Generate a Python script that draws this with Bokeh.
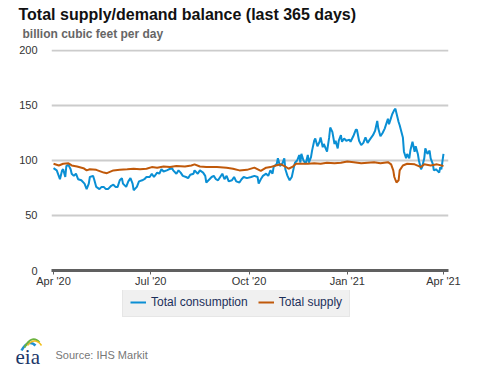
import pandas as pd
from bokeh.plotting import figure
from bokeh.layouts import column
from bokeh.models import (Range1d, FixedTicker, DatetimeTickFormatter, Label, Legend, LegendItem)
from bokeh.embed import file_html
from bokeh.resources import INLINE

# ---- data (days since 2020-04-01, bcf/d) ----
start_date = "2020-04-01"
cons_day = [0, 3, 6, 8, 9, 11, 12, 14, 16, 17, 19, 21, 23, 26, 29, 31, 33, 34, 37, 38,
            40, 43, 45, 47, 49, 51, 54, 56, 58, 60, 62, 64, 65, 68, 70, 72, 74, 75, 78, 80,
            83, 85, 87, 90, 92, 94, 97, 99, 101, 103, 106, 108, 111, 112, 115, 117, 119, 121, 124, 126,
            128, 131, 132, 135, 137, 140, 142, 143, 146, 148, 150, 152, 154, 156, 158, 160, 162, 164, 167, 169,
            171, 174,
            176, 178, 181, 185, 188, 191, 192, 194, 196, 199, 201, 203, 205, 206, 209, 210, 212, 214, 216, 217,
            219, 221, 223, 225, 226, 228, 230, 231, 232, 234, 236, 238, 239, 241, 242, 244, 245, 247, 249, 250,
            252, 253, 256, 258, 259, 261, 263, 264, 266, 267, 269, 270, 272, 274, 277, 278, 281, 283, 284, 286,
            288, 290, 292, 294, 296, 299, 301, 303, 304, 306, 308, 310, 313, 314, 316, 317, 319, 320, 321, 323,
            324, 327, 328, 330, 331, 333, 334, 336, 338, 339, 341, 342, 344, 345, 347, 348, 350, 352, 353, 355,
            356, 358, 359, 361, 362, 363, 365]
consumption = [93, 91, 83, 91, 92, 85, 95, 96, 92, 88, 86, 88, 83, 82, 79, 74, 79, 85, 86, 83,
               76, 74, 76, 76, 74, 74, 77, 78, 76, 76, 82, 84, 79, 76, 81, 84, 79, 73, 76, 81,
               82, 83, 85, 85, 88, 85, 89, 88, 92, 90, 91, 92, 93, 91, 88, 91, 89, 86, 85, 84,
               87, 88, 91, 88, 91, 89, 86, 80, 83, 85, 86, 83, 82, 85, 88, 83, 86, 81, 82, 85,
               81, 80,
               83, 85, 84, 85, 86, 85, 79, 83, 86, 88, 86, 91, 88, 94, 97, 102, 95, 97, 102, 92,
               86, 82, 85, 94, 98, 100, 105, 98, 106, 100, 97, 105, 98, 103, 109, 118, 120, 113, 117, 121,
               112, 115, 108, 121, 130, 126, 115, 118, 111, 118, 123, 117, 120, 118, 119, 117, 123, 128, 128, 118,
               114, 116, 121, 116, 119, 123, 127, 136, 129, 122, 125, 129, 138, 133, 139, 142, 146, 147, 143, 135,
               132, 121, 108, 102, 106, 102, 109, 117, 108, 113, 106, 100, 92, 94, 102, 111, 106, 109, 102, 97,
               91, 92, 91, 89, 94, 92, 106]
supply_day = [0, 5, 9, 14, 17, 22, 28, 31, 34, 40, 47, 50, 56, 62, 69, 75, 81, 87, 92, 97,
              103, 109, 115, 123, 129, 132, 137, 143, 153, 162, 168, 174, 181, 188, 194, 199, 203, 208, 213, 217,
              220, 224, 227, 231, 238, 244, 250, 256, 263, 269, 275, 281, 288, 294, 300, 306, 313, 316, 318, 319,
              321, 323, 324, 327, 331, 338, 344, 347, 353, 359, 365]
supply = [97, 95.5, 97, 97.5, 95.5, 94.5, 93, 91, 92, 91.5, 89, 88.5, 91, 91.5, 92, 92.5, 92, 92.5, 94, 93.5,
          94.5, 94, 95, 94.5, 95.5, 96.5, 94.5, 94, 94, 93.5, 92.5, 91, 91.5, 93.5, 90.5, 93.5, 94, 95.5, 96.5, 94.5,
          92.5, 94.5, 97, 97, 97, 97.5, 97, 98, 97.5, 98, 99, 98.5, 97.5, 98, 98.5, 97.5, 98.5, 96.5, 91, 85,
          80, 82, 91, 95.5, 97, 96.5, 94, 96.5, 95.5, 96.5, 95]
tick_dates = ["2020-04-01", "2020-07-01", "2020-10-01", "2021-01-01", "2021-04-01"]
y_ticks = [0, 50, 100, 150, 200]
series_names = ["Total consumption", "Total supply"]
series_colors = ["#0a8fd4", "#c0590a"]

t0 = pd.Timestamp(start_date)
cons_x = [t0 + pd.Timedelta(days=d) for d in cons_day]
sup_x = [t0 + pd.Timedelta(days=d) for d in supply_day]

def ms(ts):
    return pd.Timestamp(ts).value / 1e6

W = 477
FONT = "Liberation Sans"

def no_align(fig):
    try:
        fig.frame_align = False
    except Exception:
        pass

# ---------------- header ----------------
hdr = figure(width=W, height=42, output_backend="svg", toolbar_location=None,
             x_range=Range1d(0, W), y_range=Range1d(42, 0),
             min_border=0, x_axis_type=None, y_axis_type=None)
hdr.outline_line_color = None
hdr.xgrid.visible = False
hdr.ygrid.visible = False
no_align(hdr)
hdr.add_layout(Label(x=18, y=14, text="Total supply/demand balance (last 365 days)",
                     text_font=FONT, text_font_style="bold", text_font_size="16px",
                     text_color="#111111", text_baseline="middle"))
hdr.add_layout(Label(x=22, y=33, text="billion cubic feet per day",
                     text_font=FONT, text_font_style="bold", text_font_size="12px",
                     text_color="#666666", text_baseline="middle"))

# ---------------- main chart ----------------
x_start = ms(t0 - pd.Timedelta(days=1.9))
x_end = ms(t0 + pd.Timedelta(days=369.7))
p = figure(width=W, height=248, x_axis_type="datetime", output_backend="svg",
           toolbar_location=None, x_range=Range1d(x_start, x_end), y_range=Range1d(0, 200.9),
           min_border_left=51, min_border_right=29, min_border_top=7, min_border_bottom=20)
p.outline_line_color = None
no_align(p)

r1 = p.line(cons_x, consumption, line_color=series_colors[0], line_width=2)
r2 = p.line(sup_x, supply, line_color=series_colors[1], line_width=2)

p.xaxis.ticker = FixedTicker(ticks=[ms(d) for d in tick_dates])
p.xaxis.formatter = DatetimeTickFormatter(months="%b '%y", days="%b '%y", years="%b '%y")
p.xaxis.axis_line_color = "#606060"
p.xaxis.axis_line_width = 3
p.xaxis.major_tick_line_color = "#606060"
p.xaxis.major_tick_in = 0
p.xaxis.major_tick_out = 4
p.xaxis.minor_tick_line_color = None
p.xaxis.major_label_text_font = FONT
p.xaxis.major_label_text_font_size = "11px"
p.xaxis.major_label_text_color = "#333333"
p.xaxis.major_label_standoff = 0

p.yaxis.ticker = FixedTicker(ticks=y_ticks)
p.yaxis.axis_line_color = None
p.yaxis.major_tick_line_color = None
p.yaxis.minor_tick_line_color = None
p.yaxis.major_label_text_font = FONT
p.yaxis.major_label_text_font_size = "11px"
p.yaxis.major_label_text_color = "#333333"
p.yaxis.major_label_standoff = 8

p.xgrid.grid_line_color = None
p.ygrid.grid_line_color = "#cccccc"
p.ygrid.grid_line_width = 2

# ---------------- footer (legend + source) ----------------
ftr = figure(width=W, height=77, output_backend="svg", toolbar_location=None,
             x_range=Range1d(0, W), y_range=Range1d(367, 290),
             min_border=0, x_axis_type=None, y_axis_type=None)
ftr.outline_line_color = None
ftr.xgrid.visible = False
ftr.ygrid.visible = False
no_align(ftr)
nan = float("nan")
k1 = ftr.line([nan, nan], [nan, nan], line_color=series_colors[0], line_width=2)
k2 = ftr.line([nan, nan], [nan, nan], line_color=series_colors[1], line_width=2)
legend = Legend(items=[LegendItem(label=series_names[0], renderers=[k1]),
                       LegendItem(label=series_names[1], renderers=[k2])],
                orientation="horizontal", location=(122, 50),
                background_fill_color="#f0f0f0", background_fill_alpha=1,
                border_line_color="#dcdcdc", label_text_font=FONT,
                label_text_font_size="12px", label_text_color="#1c2f5b",
                glyph_width=16, glyph_height=12, spacing=10, padding=7, margin=0,
                label_standoff=5, label_height=14)
ftr.add_layout(legend)

# eia logo (decorative)
ftr.bezier(x0=[21, 24, 27], y0=[350, 347, 345], x1=[35, 39, 41], y1=[345, 342, 345],
           cx0=[26, 29, 32], cy0=[341, 337, 338], cx1=[31, 35, 38], cy1=[341, 337, 340],
           line_color=["#1f8fd0", "#6cb33f", "#f2c01e"], line_width=[2.5, 2, 1.5])
ftr.add_layout(Label(x=15, y=356, text="eia", text_font="Liberation Serif",
                     text_font_size="21px", text_color="#1b3768", text_baseline="middle"))
ftr.add_layout(Label(x=55, y=354, text="Source: IHS Markit", text_font=FONT,
                     text_font_size="11px", text_color="#777777", text_baseline="middle"))

layout = column(hdr, p, ftr, spacing=0)
open("out.html", "w").write(file_html(layout, INLINE))
